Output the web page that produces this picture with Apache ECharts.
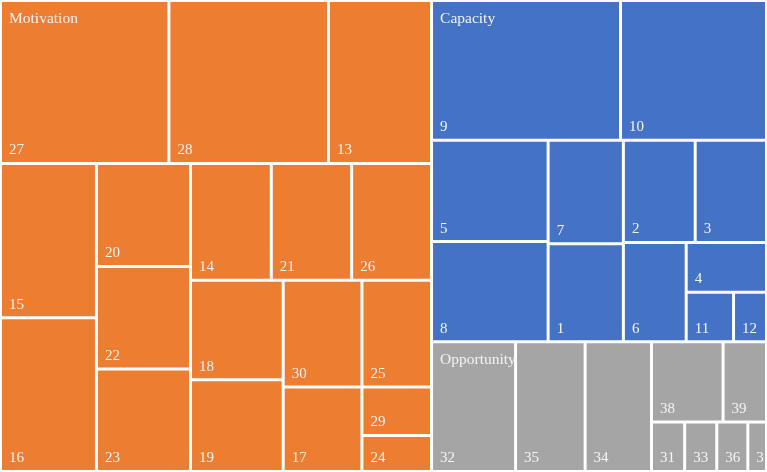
<!DOCTYPE html>
<html>
<head>
<meta charset="utf-8">
<script src="https://cdn.jsdelivr.net/npm/echarts@6/dist/echarts.min.js"></script>
<style>
  html, body { margin: 0; padding: 0; background: #fff; }
  #main { width: 767px; height: 472px; }
</style>
</head>
<body>
<div id="main"></div>
<script>
// groups
const groups = ['Motivation', 'Capacity', 'Opportunity']
const groupColors = ['#ED7D31', '#4472C4', '#A5A5A5']

// leaf labels and values per group
const motivationNames = ['27', '28', '13', '15', '16', '20', '22', '23', '14', '21', '26', '18', '19', '30', '25', '17', '29', '24']
const motivationValues = [26.8, 25.4, 16.4, 14.45, 14.4, 9.45, 9.42, 9.4, 9.2, 9.15, 9.1, 9.0, 8.3, 8.2, 7.25, 6.5, 3.3, 2.45]

const capacityNames = ['9', '10', '5', '8', '7', '1', '2', '3', '6', '4', '11', '12']
const capacityValues = [25.8, 19.93, 11.52, 11.41, 7.6, 7.2, 7.15, 7.1, 6.1, 3.9, 2.3, 1.6]

const opportunityNames = ['32', '35', '34', '38', '39', '31', '33', '36', '37']
const opportunityValues = [10.63, 8.8, 8.4, 5.6, 3.4, 1.6, 1.55, 1.5, 0.9]

const leafNames = [motivationNames, capacityNames, opportunityNames]
const leafValues = [motivationValues, capacityValues, opportunityValues]

const pad = 2
const textColor = '#f4f4f4'
const fontFamily = '"Liberation Serif", "Times New Roman", "DejaVu Serif", serif'

let treeData = groups.map(function (g, i) {
  return {
    name: g,
    itemStyle: { color: groupColors[i] },
    children: leafNames[i].map(function (n, j) {
      return { name: n, value: leafValues[i][j] }
    })
  }
})

let myChart = echarts.init(document.getElementById('main'))
myChart.setOption({
  animation: false,
  series: [{
    type: 'treemap',
    left: pad,
    top: pad,
    right: pad,
    bottom: pad,
    roam: false,
    nodeClick: false,
    squareRatio: 1,
    breadcrumb: { show: false },
    data: treeData,
    label: {
      show: true,
      position: 'insideBottomLeft',
      color: textColor,
      fontFamily: fontFamily,
      fontSize: 15,
      padding: [0, 0, 4, 7]
    },
    levels: [
      { itemStyle: { borderWidth: 0, gapWidth: 3, borderColor: '#fff' } },
      { itemStyle: { borderWidth: 0, gapWidth: 3, borderColor: '#fff' } },
      { itemStyle: { borderWidth: 0 } }
    ]
  }]
})

// group names sit at the top-left of each group's laid-out rect
let root = myChart.getModel().getSeriesByIndex(0).getData().tree.root
let labels = root.children.map(function (node) {
  let l = node.getLayout()
  return {
    type: 'text',
    x: pad + l.x + 7,
    y: pad + l.y + 9,
    z: 100,
    style: { text: node.name, fill: textColor, fontSize: 15.5, fontFamily: fontFamily }
  }
})
myChart.setOption({ graphic: labels })
</script>
</body>
</html>
